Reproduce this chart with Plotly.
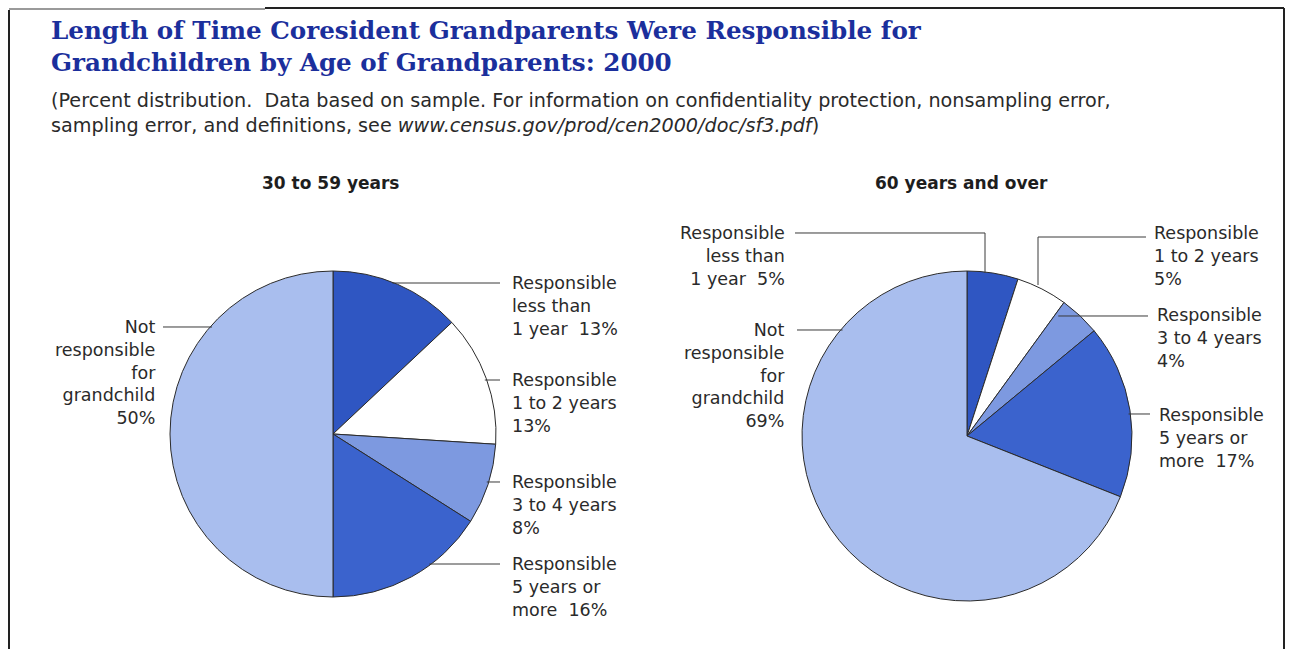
import math
import plotly.graph_objects as go

W, H = 1301, 649

categories = [
    "Responsible less than 1 year",
    "Responsible 1 to 2 years",
    "Responsible 3 to 4 years",
    "Responsible 5 years or more",
    "Not responsible for grandchild",
]
values_30_59 = [13, 13, 8, 16, 50]
values_60_over = [5, 5, 4, 17, 69]
group_titles = ["30 to 59 years", "60 years and over"]

slice_colors = ["#2f56c2", "#ffffff", "#7d99e0", "#3b63cd", "#a9beee"]
text_color = "#2a2a2a"
sans = "DejaVu Sans, sans-serif"
serif = "DejaVu Serif, serif"


def px(x):
    return x / W


def py(y):
    return 1 - y / H


def pie_domain(cx, cy, r):
    return dict(x=[px(cx - r), px(cx + r)], y=[py(cy + r), py(cy - r)])


# pie geometry in page pixels
LEFT = dict(cx=333, cy=434, r=163)
RIGHT = dict(cx=967, cy=436, r=165)

fig = go.Figure()
for vals, geo, name in [(values_30_59, LEFT, group_titles[0]),
                        (values_60_over, RIGHT, group_titles[1])]:
    fig.add_trace(go.Pie(
        labels=categories,
        values=vals,
        name=name,
        sort=False,
        direction="clockwise",
        rotation=0,
        textinfo="none",
        hoverinfo="label+percent",
        marker=dict(colors=slice_colors, line=dict(color="#2b2b2b", width=1)),
        domain=pie_domain(geo["cx"], geo["cy"], geo["r"]),
        showlegend=False,
    ))


def edge_x(geo, y, side):
    dy = y - geo["cy"]
    return geo["cx"] + side * math.sqrt(max(geo["r"] ** 2 - dy ** 2, 0))


def pct(v):
    return f"{v}%"


shapes = []
annotations = []
line_style = dict(color="#3a3a3a", width=1)


def add_line(points):
    path = "M " + " L ".join(f"{px(x):.5f},{py(y):.5f}" for x, y in points)
    shapes.append(dict(type="path", path=path, xref="paper", yref="paper",
                       line=line_style))


def add_label(text, x, y_top, align):
    annotations.append(dict(
        text=text, x=px(x), y=py(y_top), xref="paper", yref="paper",
        xanchor="left" if align == "left" else "right", yanchor="top",
        align=align, showarrow=False,
        font=dict(family=sans, size=17.5, color=text_color),
    ))


# --- 30 to 59 years labels ---
v = values_30_59
add_label(f"Not<br>responsible<br>for<br>grandchild<br>{pct(v[4])}", 158, 315, "right")
add_line([(163, 327), (edge_x(LEFT, 327, -1) + 2, 327)])

right_labels_left = [
    (f"Responsible<br>less than<br>1 year  {pct(v[0])}", 283),
    (f"Responsible<br>1 to 2 years<br>{pct(v[1])}", 380),
    (f"Responsible<br>3 to 4 years<br>{pct(v[2])}", 482),
    (f"Responsible<br>5 years or<br>more  {pct(v[3])}", 564),
]
for txt, y in right_labels_left:
    add_label(txt, 510, y - 12, "left")
    add_line([(edge_x(LEFT, y, 1) - 2, y), (500, y)])

# --- 60 years and over labels ---
v = values_60_over
add_label(f"Responsible<br>less than<br>1 year  {pct(v[0])}", 787, 221, "right")
add_line([(795, 233), (985, 233), (985, 273)])

add_label(f"Responsible<br>1 to 2 years<br>{pct(v[1])}", 1152, 221, "left")
add_line([(1146, 237), (1038, 237), (1038, 285)])

add_label(f"Responsible<br>3 to 4 years<br>{pct(v[2])}", 1155, 303, "left")
add_line([(1148, 316), (edge_x(RIGHT, 316, 1) - 22, 316)])

add_label(f"Responsible<br>5 years or<br>more  {pct(v[3])}", 1157, 403, "left")
add_line([(1150, 414), (edge_x(RIGHT, 414, 1) - 2, 414)])

add_label(f"Not<br>responsible<br>for<br>grandchild<br>{pct(v[4])}", 787, 318, "right")
add_line([(797, 330), (edge_x(RIGHT, 330, -1) + 2, 330)])

# group headings
for title, cx in zip(group_titles, [330, 962]):
    annotations.append(dict(
        text=f"<b>{title}</b>", x=px(cx), y=py(183), xref="paper", yref="paper",
        xanchor="center", yanchor="middle", showarrow=False,
        font=dict(family=sans, size=17, color="#1e1e1e"),
    ))

# main title and note
annotations.append(dict(
    text="<b>Length of Time Coresident Grandparents Were Responsible for<br>"
         "Grandchildren by Age of Grandparents: 2000</b>",
    x=px(49), y=py(14), xref="paper", yref="paper", xanchor="left", yanchor="top",
    align="left", showarrow=False,
    font=dict(family=serif, size=24.6, color="#1b2f9c"),
))
annotations.append(dict(
    text="(Percent distribution.  Data based on sample. For information on confidentiality "
         "protection, nonsampling error,<br>sampling error, and definitions, see "
         "<i>www.census.gov/prod/cen2000/doc/sf3.pdf</i>)",
    x=px(49), y=py(87), xref="paper", yref="paper", xanchor="left", yanchor="top",
    align="left", showarrow=False,
    font=dict(family=sans, size=19.2, color="#2a2a2a"),
))

# page frame
frame = dict(color="#222222", width=2)
shapes.append(dict(type="line", xref="paper", yref="paper",
                   x0=px(9), y0=py(10), x1=px(9), y1=py(649), line=frame))
shapes.append(dict(type="line", xref="paper", yref="paper",
                   x0=px(9), y0=py(9), x1=px(265), y1=py(9),
                   line=dict(color="#9a9a9a", width=2)))
shapes.append(dict(type="line", xref="paper", yref="paper",
                   x0=px(265), y0=py(8), x1=px(1284), y1=py(8), line=frame))
shapes.append(dict(type="line", xref="paper", yref="paper",
                   x0=px(1284), y0=py(8), x1=px(1284), y1=py(649), line=frame))

fig.update_layout(
    width=W, height=H,
    margin=dict(l=0, r=0, t=0, b=0),
    paper_bgcolor="white", plot_bgcolor="white",
    shapes=shapes, annotations=annotations,
)

fig.write_html("out.html")
